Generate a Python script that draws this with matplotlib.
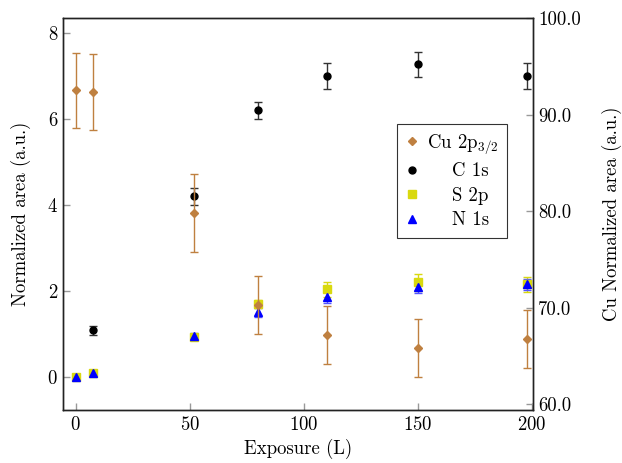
import numpy as np
import matplotlib.pyplot as plt

plt.rcParams['font.family'] = ['cmr10', 'DejaVu Serif']
plt.rcParams['mathtext.fontset'] = 'cm'
plt.rcParams['axes.unicode_minus'] = False
plt.rcParams['axes.formatter.use_mathtext'] = True

# exposure in Langmuir
exposure = [0, 7.5, 52, 80, 110, 150, 198]

# Cu 2p3/2 on the right axis
cu = [92.5, 92.3, 79.8, 70.3, 67.2, 65.8, 66.8]
cu_err = [3.9, 3.95, 4.0, 3.0, 3.0, 3.0, 3.0]

# C 1s, S 2p, N 1s on the left axis
c1s = [0.0, 1.08, 4.2, 6.2, 7.0, 7.27, 7.0]
c1s_err = [0.0, 0.1, 0.2, 0.2, 0.3, 0.3, 0.3]
s2p = [0.0, 0.1, 0.93, 1.7, 2.04, 2.2, 2.15]
s2p_err = [0.04, 0.04, 0.06, 0.1, 0.17, 0.2, 0.18]
n1s = [0.0, 0.1, 0.95, 1.5, 1.86, 2.1, 2.15]
n1s_err = [0.04, 0.04, 0.08, 0.1, 0.13, 0.15, 0.13]

brown = '#bf8040'
yellow = '#d9d90f'
fs = 13.5

fig = plt.figure(figsize=(6.22, 4.63), dpi=100)
ax = fig.add_axes([63/622, 1-410/463, 470/622, 392/463])
ax2 = ax.twinx()

ekw = dict(capsize=3, elinewidth=1, capthick=1, linestyle='none')
ax2.errorbar(exposure, cu, yerr=cu_err, fmt='D', color=brown, ms=3.8,
             ecolor=brown, **ekw)
ax.errorbar(exposure, c1s, yerr=c1s_err, fmt='o', color='black', ms=5,
            ecolor='#333333', **ekw)
ax.errorbar(exposure, s2p, yerr=s2p_err, fmt='s', color=yellow, ms=5.3,
            ecolor=yellow, **ekw)
ax.errorbar(exposure, n1s, yerr=n1s_err, fmt='^', color='blue', ms=5.3,
            ecolor='#5555ff', **ekw)

ax.set_xlim(-5.5, 200.5)
ax.set_ylim(-0.77, 8.35)
ax2.set_ylim(59.4, 100)
ax.set_xticks([0, 50, 100, 150, 200])
ax.set_yticks([0, 2, 4, 6, 8])
ax2.set_yticks([60, 70, 80, 90, 100])
ax2.set_yticklabels(['%.1f' % v for v in [60, 70, 80, 90, 100]])

for a in (ax, ax2):
    a.tick_params(direction='in', length=5, color='#999999', labelsize=fs,
                  width=1)
    for s in a.spines.values():
        s.set_linewidth(1)
        s.set_color('#222222')
ax.tick_params(axis='x', pad=4)

ax.set_xlabel('Exposure (L)', fontsize=fs)
ax.set_ylabel('Normalized area (a.u.)', fontsize=fs, labelpad=12)
ax2.set_ylabel('Cu Normalized area (a.u.)', fontsize=fs, labelpad=15)

h = [plt.Line2D([], [], ls='none', marker='D', color=brown, ms=3.8),
     plt.Line2D([], [], ls='none', marker='o', color='black', ms=5),
     plt.Line2D([], [], ls='none', marker='s', color=yellow, ms=5.3),
     plt.Line2D([], [], ls='none', marker='^', color='blue', ms=5.3)]
labels = ['Cu 2p$_{3/2}$', '    C 1s', '    S 2p', '    N 1s']
leg = ax.legend(h, labels, loc='upper left', bbox_to_anchor=(0.71, 0.73),
                fontsize=fs, frameon=True, fancybox=False, edgecolor='black',
                handlelength=0.7, handletextpad=0.45, borderpad=0.45,
                labelspacing=0.35, borderaxespad=0)
leg.get_frame().set_linewidth(0.8)

fig.savefig('out.png', dpi=100)
